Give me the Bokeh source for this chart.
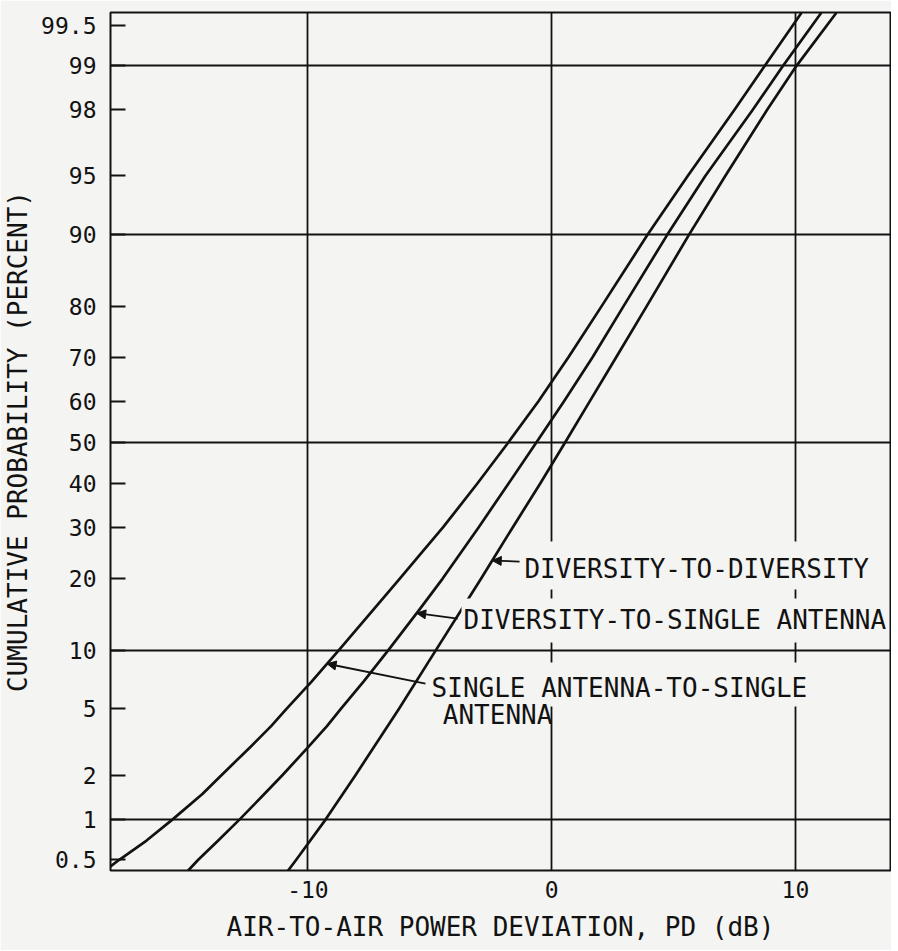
from statistics import NormalDist
import numpy as np
from bokeh.plotting import figure
from bokeh.models import (FixedTicker, CustomJSTickFormatter, Label, Arrow,
                          NormalHead, Range1d)
from bokeh.embed import file_html
from bokeh.resources import INLINE

# ---- data: cumulative probability (%) vs power deviation (dB)
prob_single = [0.43, 0.5, 0.7, 1, 1.5, 2, 3, 4, 5, 7, 10, 15, 20, 25, 30, 40, 50, 60,
               70, 80, 90, 95, 98, 99, 99.6]
pd_single = [-18.2, -17.74, -16.62, -15.55, -14.33, -13.55, -12.37, -11.51, -10.88, -9.85,
             -8.73, -7.34, -6.24, -5.3, -4.46, -3.05, -1.78, -0.55, 0.68, 2.05, 3.93,
             5.58, 7.5, 8.75, 10.25]

prob_div_single = [0.41, 0.5, 0.7, 1, 1.5, 2, 3, 4, 5, 7, 10, 15, 20, 30, 40, 50, 60,
                   70, 80, 90, 95, 98, 99, 99.6]
pd_div_single = [-14.92, -14.5, -13.68, -12.8, -11.79, -11.05, -9.99, -9.22, -8.65, -7.72,
                 -6.7, -5.45, -4.48, -3.0, -1.77, -0.63, 0.5, 1.67, 2.95, 4.74, 6.3,
                 8.25, 9.5, 11.06]

prob_div_div = [0.41, 0.5, 1, 2, 5, 10, 20, 30, 40, 50, 60, 70, 80, 90, 95, 98, 99, 99.6]
pd_div_div = [-10.82, -10.48, -9.27, -8.05, -6.27, -4.75, -2.9, -1.6, -0.47, 0.55,
              1.56, 2.64, 3.9, 5.63, 7.12, 8.84, 10.05, 11.68]

prob_ticks = [0.5, 1, 2, 5, 10, 20, 30, 40, 50, 60, 70, 80, 90, 95, 98, 99, 99.5]
prob_tick_labels = ["0.5", "1", "2", "5", "10", "20", "30", "40", "50", "60", "70",
                    "80", "90", "95", "98", "99", "99.5"]
prob_grid = [1, 10, 50, 90, 99]
pd_ticks = [-10, 0, 10]

label_single = ["SINGLE ANTENNA-TO-SINGLE", "ANTENNA"]
label_div_single = "DIVERSITY-TO-SINGLE ANTENNA"
label_div_div = "DIVERSITY-TO-DIVERSITY"
arrow_prob = {"single": 8.6, "div_single": 14.6, "div_div": 23.3}

# ---- normal-probability (probit) transform
nd = NormalDist()
def probit(p_list):
    return [nd.inv_cdf(p / 100.0) for p in p_list]

BG = "#f4f4f2"
FONT = "DejaVu Sans Mono"
INK = "#121212"

p = figure(frame_width=780, frame_height=858, output_backend="svg", toolbar_location=None,
           x_range=Range1d(-18.1, 13.9), y_range=Range1d(-2.642, 2.654),
           min_border_left=107, min_border_right=1, min_border_top=12, min_border_bottom=80,
           background_fill_color=BG, border_fill_color=BG)
p.outline_line_color = INK
p.outline_line_width = 2

# axes
p.xaxis.ticker = FixedTicker(ticks=pd_ticks)
p.xaxis.major_label_overrides = {t: str(t) for t in pd_ticks}
p.xaxis.major_tick_in = 0
p.xaxis.major_tick_out = 0
p.xaxis.minor_tick_line_color = None
p.xaxis.axis_line_color = None
p.xaxis.axis_label = "AIR-TO-AIR POWER DEVIATION, PD (dB)"
p.xaxis.major_label_standoff = 10
p.xaxis.axis_label_standoff = 11

z_ticks = probit(prob_ticks)
p.yaxis.ticker = FixedTicker(ticks=z_ticks)
p.yaxis.formatter = CustomJSTickFormatter(args=dict(zs=z_ticks, labels=prob_tick_labels), code="""
let best = 0;
for (let i = 0; i < zs.length; i++) {
  if (Math.abs(zs[i] - tick) < Math.abs(zs[best] - tick)) best = i;
}
return labels[best];
""")
p.yaxis.major_tick_in = 15
p.yaxis.major_tick_out = 0
p.yaxis.major_tick_line_width = 2
p.yaxis.major_tick_line_color = INK
p.yaxis.minor_tick_line_color = None
p.yaxis.axis_line_color = None
p.yaxis.axis_label = "CUMULATIVE PROBABILITY (PERCENT)"
p.yaxis.major_label_standoff = 14
p.yaxis.axis_label_standoff = 5

for ax in (p.xaxis, p.yaxis):
    ax.major_label_text_font = FONT
    ax.major_label_text_font_size = "23px"
    ax.major_label_text_color = INK
    ax.axis_label_text_font = FONT
    ax.axis_label_text_font_size = "26px"
    ax.axis_label_text_font_style = "normal"
    ax.axis_label_text_color = INK

# grids
p.xgrid.ticker = FixedTicker(ticks=pd_ticks)
p.ygrid.ticker = FixedTicker(ticks=probit(prob_grid))
for g in (p.xgrid, p.ygrid):
    g.grid_line_color = INK
    g.grid_line_width = 1.8
    g.grid_line_alpha = 1.0

# curves
curves = {
    "single": (prob_single, pd_single),
    "div_single": (prob_div_single, pd_div_single),
    "div_div": (prob_div_div, pd_div_div),
}
for key, (pr, pdv) in curves.items():
    p.line(pdv, probit(pr), line_color=INK, line_width=2.7, line_join="round")

# labels (boxes behind text interrupt the grid, as on the original)
def add_label(text, x, z, top, bottom, boxed=True):
    p.add_layout(Label(x=x, y=z, text=text, text_font=FONT, text_font_size="26px",
                       text_color=INK, text_align="left", text_baseline="middle",
                       background_fill_color=BG if boxed else None,
                       padding=dict(left=2, right=2, top=top, bottom=bottom)))

add_label(label_div_div, -1.2, -0.76, 12, 6)
add_label(label_div_single, -3.7, -1.099, 6, 8)
add_label(label_single[0], -5.01, -1.494, 10, 4)
add_label(label_single[1], -4.55, -1.68, 0, 0, boxed=False)

# leader arrows from labels to curves
starts = {"div_div": (-1.32, -0.735), "div_single": (-3.86, -1.087), "single": (-5.18, -1.488)}
for key, (xs, zs0) in starts.items():
    pr, pdv = curves[key]
    zc = probit(pr)
    ze = nd.inv_cdf(arrow_prob[key] / 100.0)
    xe = float(np.interp(ze, zc, pdv))
    p.add_layout(Arrow(x_start=xs, y_start=zs0, x_end=xe, y_end=ze,
                       line_color=INK, line_width=1.8,
                       end=NormalHead(size=9, fill_color=INK, line_color=INK)))

open("out.html", "w").write(file_html(p, INLINE))
